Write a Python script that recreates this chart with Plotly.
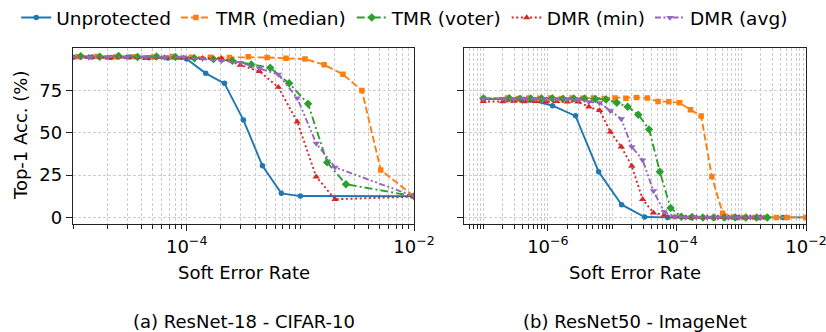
import plotly.graph_objects as go

# ---------------- data ----------------
series_names = ["Unprotected", "TMR (median)", "TMR (voter)", "DMR (min)", "DMR (avg)"]

# Panel (a) ResNet-18 - CIFAR-10
a_unprot_x = [1e-5, 1.47e-5, 2.15e-5, 3.16e-5, 4.64e-5, 6.81e-5, 1e-4, 1.47e-4, 2.15e-4, 3.16e-4, 4.64e-4, 6.81e-4, 1e-3, 1e-2]
a_unprot_y = [94.6, 94.8, 94.4, 94.7, 94.3, 94.1, 93.6, 85.1, 79.2, 57.5, 30.5, 14.2, 12.6, 12.5]

a_tmr_med_x = [1.1e-5, 1.62e-5, 2.37e-5, 3.48e-5, 5.1e-5, 7.49e-5, 1.1e-4, 1.62e-4, 2.37e-4, 3.48e-4, 5.1e-4, 7.49e-4, 1.1e-3, 1.62e-3, 2.37e-3, 3.48e-3, 5.1e-3, 1e-2]
a_tmr_med_y = [94.9, 95.0, 94.7, 94.9, 94.8, 95.0, 94.6, 94.6, 94.5, 94.9, 94.5, 94.0, 93.6, 90.2, 84.5, 75.0, 28.0, 12.5]

a_tmr_vot_x = [1.17e-5, 1.72e-5, 2.52e-5, 3.7e-5, 5.43e-5, 7.97e-5, 1.17e-4, 1.72e-4, 2.52e-4, 3.7e-4, 5.43e-4, 7.97e-4, 1.17e-3, 1.72e-3, 2.52e-3, 1e-2]
a_tmr_vot_y = [95.2, 94.9, 95.3, 94.8, 95.1, 94.7, 94.0, 93.5, 92.5, 90.3, 88.4, 79.2, 67.1, 32.5, 19.6, 12.5]

a_dmr_x = [9.4e-6, 1.38e-5, 2.02e-5, 2.97e-5, 4.36e-5, 6.4e-5, 9.4e-5, 1.38e-4, 2.02e-4, 2.97e-4, 4.36e-4, 6.4e-4, 9.4e-4, 1.38e-3, 2.02e-3, 1e-2]
a_dmr_min_y = [94.3, 94.6, 94.2, 94.5, 94.0, 94.4, 94.2, 94.0, 94.0, 90.0, 86.3, 76.9, 56.5, 24.0, 10.7, 12.3]
a_dmr_avg_y = [94.8, 94.5, 94.9, 94.6, 94.8, 94.5, 94.7, 93.8, 92.5, 91.5, 88.2, 84.5, 70.5, 43.7, 29.6, 12.5]

# Panel (b) ResNet50 - ImageNet
b_unprot_x = [1e-7, 2.28e-7, 5.18e-7, 1.18e-6, 2.68e-6, 6.11e-6, 1.39e-5, 3.16e-5, 7.2e-5, 1.64e-4, 3.73e-4, 8.48e-4, 1.93e-3, 4.39e-3, 1e-2]
b_unprot_y = [69.8, 70.0, 69.3, 66.0, 60.0, 27.0, 7.5, 0.2, 0, 0, 0, 0, 0, 0, 0]

b_tmr_med_x = [1e-7, 2.37e-7, 3.48e-7, 5.1e-7, 7.49e-7, 1.1e-6, 1.62e-6, 2.37e-6, 3.48e-6, 5.1e-6, 7.49e-6, 1.1e-5, 1.62e-5, 2.37e-5, 3.48e-5, 5.1e-5, 7.49e-5, 1.1e-4, 1.62e-4, 2.37e-4, 3.48e-4, 5.1e-4, 7.49e-4, 1.1e-3, 1.62e-3, 2.37e-3, 3.48e-3, 5.1e-3, 1e-2]
b_tmr_med_y = [70.3, 70.5, 70.3, 70.6, 70.4, 70.5, 70.3, 70.6, 70.4, 70.5, 70.3, 70.6, 70.4, 70.9, 70.5, 68.5, 68.3, 67.7, 63.6, 59.9, 24.0, 2.5, 0.3, 0, 0, 0, 0, 0, 0]

b_tmr_vot_x = [1e-7, 2.52e-7, 3.7e-7, 5.43e-7, 7.97e-7, 1.17e-6, 1.72e-6, 2.52e-6, 3.7e-6, 5.43e-6, 7.97e-6, 1.17e-5, 1.72e-5, 2.52e-5, 3.7e-5, 5.43e-5, 7.97e-5, 1.17e-4, 1.72e-4, 2.52e-4, 3.7e-4, 5.43e-4, 7.97e-4, 1.17e-3, 1.72e-3, 2.52e-3]
b_tmr_vot_y = [70.2, 70.4, 70.1, 70.3, 70.2, 70.4, 70.1, 70.3, 70.3, 70.0, 69.7, 67.7, 65.4, 60.7, 52.0, 27.0, 5.6, 0.4, 0.2, 0, 0, 0, 0, 0, 0, 0]

b_dmr_x = [1e-7, 2.0e-7, 2.94e-7, 4.32e-7, 6.33e-7, 9.3e-7, 1.37e-6, 2.0e-6, 2.94e-6, 4.32e-6, 6.33e-6, 9.3e-6, 1.37e-5, 2.0e-5, 2.94e-5, 4.32e-5, 6.33e-5, 9.3e-5, 1.37e-4, 2.0e-4, 2.94e-4, 4.32e-4, 6.33e-4, 9.3e-4, 1.37e-3, 2.0e-3]
b_dmr_min_y = [68.5, 68.4, 68.7, 68.4, 68.6, 68.3, 68.5, 68.2, 68.3, 65.3, 63.2, 50.5, 41.7, 30.3, 10.7, 2.7, 1.3, 0.3, 0, 0, 0, 0, 0, 0, 0, 0]
b_dmr_avg_y = [70.0, 70.2, 70.0, 70.3, 69.9, 70.1, 70.0, 69.8, 69.5, 68.3, 67.7, 63.0, 58.2, 41.7, 33.9, 15.6, 3.3, 0.4, 0, 0, 0, 0, 0, 0, 0, 0]

y_ticks = [0, 25, 50, 75]
a_major_ticks = [1e-4, 1e-2]
a_major_text = ["10<sup>−4</sup>", "10<sup>−2</sup>"]
b_major_ticks = [1e-6, 1e-4, 1e-2]
b_major_text = ["10<sup>−6</sup>", "10<sup>−4</sup>", "10<sup>−2</sup>"]
x_title = "Soft Error Rate"
y_title = "Top-1 Acc. (%)"
captions = ["(a) ResNet-18 - CIFAR-10", "(b) ResNet50 - ImageNet"]

# ---------------- style ----------------
FONT = "DejaVu Sans"
FS = 18
LEG_FS = 18.5
colors = ["#1f77b4", "#ff7f0e", "#2ca02c", "#d62728", "#9467bd"]
dashes = ["solid", "7px,3px", "8px,3px,2px,3px", "2px,2.6px", "6px,2.5px,2px,2.5px,2px,2.5px"]
symbols = ["circle", "square", "diamond", "triangle-up", "triangle-down"]
msizes = [5.5, 5.5, 6.5, 6.5, 6.5]
LW = 1.9

W, H = 826, 332
left_dom = [73 / W, 414 / W]
right_dom = [464 / W, 806 / W]
y_dom = [1 - 224 / H, 1 - 48.3 / H]

fig = go.Figure()

panel_a = [(a_unprot_x, a_unprot_y), (a_tmr_med_x, a_tmr_med_y), (a_tmr_vot_x, a_tmr_vot_y),
           (a_dmr_x, a_dmr_min_y), (a_dmr_x, a_dmr_avg_y)]
panel_b = [(b_unprot_x, b_unprot_y), (b_tmr_med_x, b_tmr_med_y), (b_tmr_vot_x, b_tmr_vot_y),
           (b_dmr_x, b_dmr_min_y), (b_dmr_x, b_dmr_avg_y)]

for pi, (panel, xa, ya) in enumerate([(panel_a, "x", "y"), (panel_b, "x2", "y2")]):
    for i, (xs, ys) in enumerate(panel):
        fig.add_trace(go.Scatter(
            x=xs, y=ys, xaxis=xa, yaxis=ya, mode="lines+markers",
            name=series_names[i], legendgroup=series_names[i], showlegend=(pi == 0),
            line=dict(color=colors[i], width=LW, dash=dashes[i]),
            marker=dict(symbol=symbols[i], size=msizes[i], color=colors[i], line=dict(width=0)),
        ))


def minor_vals(lo, hi, majors):
    vals = []
    for e in range(lo, hi + 1):
        for m in range(1, 10):
            v = m * 10.0 ** e
            if all(abs(v - mj) / mj > 1e-6 for mj in majors):
                vals.append(v)
    return vals


grid = dict(showgrid=True, gridcolor="#cdcdcd", griddash="3px,2px", gridwidth=0.8)
frame = dict(showline=True, mirror=True, linecolor="#222", linewidth=1.3,
             ticks="outside", ticklen=6, tickwidth=1.2, tickcolor="#222",
             zeroline=False, automargin=False, ticklabeloverflow="allow",
             tickfont=dict(family=FONT, size=FS, color="#000"))
minor_common = dict(tickmode="array", ticks="outside", ticklen=3.5, tickwidth=1.0, tickcolor="#222", **grid)

fig.update_layout(
    xaxis=dict(type="log", domain=left_dom, range=[-5, -2], tickmode="array",
               tickvals=a_major_ticks, ticktext=a_major_text,
               minor=dict(tickvals=minor_vals(-6, -2, a_major_ticks), **minor_common),
               anchor="y", **frame, **grid),
    xaxis2=dict(type="log", domain=right_dom, range=[-7.3, -2], tickmode="array",
                tickvals=b_major_ticks, ticktext=b_major_text,
                minor=dict(tickvals=minor_vals(-8, -2, b_major_ticks), **minor_common),
                anchor="y2", **frame, **grid),
    yaxis=dict(domain=y_dom, range=[-3.9, 99.9], tickmode="array", tickvals=y_ticks,
               anchor="x", **frame, **grid),
    yaxis2=dict(domain=y_dom, range=[-3.9, 99.9], tickmode="array", tickvals=y_ticks,
                showticklabels=False, anchor="x2", **frame, **grid),
    width=W, height=H, margin=dict(l=0, r=0, t=0, b=0, autoexpand=False),
    paper_bgcolor="white", plot_bgcolor="white",
    font=dict(family=FONT, size=FS, color="#000"),
    legend=dict(orientation="h", x=0.49, xanchor="center", y=1 - 18 / H, yanchor="middle",
                font=dict(family=FONT, size=LEG_FS, color="#000"), bgcolor="rgba(0,0,0,0)",
                itemwidth=30, tracegroupgap=0),
    showlegend=True,
)

ann = []
for dom, cap in zip([left_dom, right_dom], captions):
    cx = (dom[0] + dom[1]) / 2
    ann.append(dict(text=x_title, x=cx, y=1 - 272 / H, xref="paper", yref="paper",
                    showarrow=False, xanchor="center", yanchor="middle",
                    font=dict(family=FONT, size=FS, color="#000")))
    ann.append(dict(text=cap, x=cx, y=1 - 321 / H, xref="paper", yref="paper",
                    showarrow=False, xanchor="center", yanchor="middle",
                    font=dict(family=FONT, size=FS, color="#000")))
ann.append(dict(text=y_title, x=20 / W, y=1 - 136 / H, xref="paper", yref="paper", textangle=-90,
                showarrow=False, xanchor="center", yanchor="middle",
                font=dict(family=FONT, size=FS, color="#000")))
fig.update_layout(annotations=ann)

fig.write_html("out.html")
